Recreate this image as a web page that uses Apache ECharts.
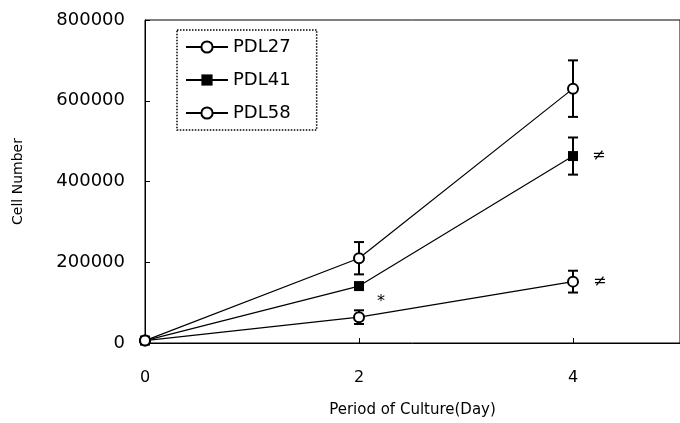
<!DOCTYPE html>
<html>
<head>
    <meta charset="utf-8">
    <script src="https://cdn.jsdelivr.net/npm/echarts@6/dist/echarts.min.js"></script>
</head>
<body style="margin:0;background:#fff;">
<div id="main" style="width: 680px;height:423px;"></div>
<script>
  // 培养天数
  var days = [0, 2, 4];
  var seriesNames = ['PDL27', 'PDL41', 'PDL58'];
  // 细胞数
  var pdl27 = [6000, 210000, 630000];
  var pdl41 = [6000, 141000, 463000];
  var pdl58 = [6000, 64000, 152000];
  // 误差
  var pdl27Err = [0, 40000, 70000];
  var pdl41Err = [0, 6000, 46000];
  var pdl58Err = [0, 17000, 27000];
  // 显著性标记
  var pdl41Mark = ['', '', '≠'];
  var pdl58Mark = ['', '*', '≠'];
  var yTicks = [0, 200000, 400000, 600000, 800000];

  var font = 'DejaVu Sans';

  function pairs(vals, marks) {
    return days.map(function (d, i) {
      var item = {value: [d, vals[i]]};
      if (marks && marks[i]) {
        item.label = {
          show: true, formatter: marks[i], position: 'right',
          distance: marks[i] === '*' ? 12 : 14,
          offset: marks[i] === '*' ? [0, -15] : [0, 0],
          color: '#000', fontSize: 16, fontFamily: font
        };
      }
      return item;
    });
  }

  function errData(vals, errs) {
    return days.map(function (d, i) {
      return [d, vals[i] - errs[i], vals[i] + errs[i]];
    });
  }

  // 误差线
  function errorBar(params, api) {
    var lo = api.coord([api.value(0), api.value(1)]);
    var hi = api.coord([api.value(0), api.value(2)]);
    var w = 5;
    var style = {stroke: '#000', lineWidth: 2};
    return {
      type: 'group',
      children: [
        {type: 'line', shape: {x1: lo[0], y1: lo[1], x2: hi[0], y2: hi[1]}, style: style},
        {type: 'line', shape: {x1: lo[0] - w, y1: lo[1], x2: lo[0] + w, y2: lo[1]}, style: style},
        {type: 'line', shape: {x1: hi[0] - w, y1: hi[1], x2: hi[0] + w, y2: hi[1]}, style: style}
      ]
    };
  }

  function lineSeries(name, vals, symbol, marks) {
    return {
      name: name,
      type: 'line',
      data: pairs(vals, marks),
      symbol: symbol,
      symbolSize: 10,
      showAllSymbol: true,
      lineStyle: {color: '#000', width: 1.2},
      itemStyle: {color: '#000', borderWidth: 1.5},
      emphasis: {disabled: true},
      z: 3
    };
  }

  function errSeries(vals, errs) {
    return {
      type: 'custom',
      renderItem: errorBar,
      data: errData(vals, errs),
      encode: {x: 0, y: [1, 2]},
      z: 2,
      silent: true
    };
  }

  var myChart = echarts.init(document.getElementById('main'));
  var option = {
    animation: false,
    backgroundColor: '#fff',
    textStyle: {fontFamily: font, color: '#000'},
    grid: {
      left: 145, top: 20, width: 540, height: 323,
      show: true, borderColor: '#000', borderWidth: 1
    },
    legend: {
      data: seriesNames,
      orient: 'vertical',
      left: 177, top: 30,
      padding: [8, 26, 8, 8],
      itemGap: 15,
      itemWidth: 42, itemHeight: 14,
      borderColor: '#000', borderWidth: 1.5, borderType: 'dotted',
      textStyle: {fontSize: 18, color: '#000', fontFamily: font}
    },
    xAxis: {
      type: 'value',
      min: 0, max: 5, interval: 2,
      name: 'Period of Culture(Day)',
      nameLocation: 'middle',
      nameGap: 60,
      nameTextStyle: {fontSize: 15, color: '#000', fontFamily: font},
      axisLine: {lineStyle: {color: '#000', width: 1}},
      axisTick: {inside: true, length: 5, lineStyle: {color: '#000'}},
      axisLabel: {showMaxLabel: false, margin: 27, fontSize: 16, color: '#000', fontFamily: font},
      splitLine: {show: false}
    },
    yAxis: {
      type: 'value',
      min: yTicks[0], max: yTicks[yTicks.length - 1], interval: yTicks[1] - yTicks[0],
      name: 'Cell Number',
      nameLocation: 'middle',
      nameGap: 120,
      nameTextStyle: {fontSize: 14, color: '#000', fontFamily: font},
      axisLine: {show: true, lineStyle: {color: '#000', width: 1}},
      axisTick: {show: true, inside: true, length: 5, lineStyle: {color: '#000'}},
      axisLabel: {
        margin: 20, fontSize: 18, color: '#000', fontFamily: font,
        formatter: function (v) { return String(v); }
      },
      splitLine: {show: false}
    },
    series: [
      errSeries(pdl27, pdl27Err),
      errSeries(pdl41, pdl41Err),
      errSeries(pdl58, pdl58Err),
      lineSeries('PDL27', pdl27, 'emptyCircle'),
      lineSeries('PDL41', pdl41, 'rect', pdl41Mark),
      lineSeries('PDL58', pdl58, 'emptyCircle', pdl58Mark)
    ]
  };
  myChart.setOption(option);
</script>
</body>
</html>
